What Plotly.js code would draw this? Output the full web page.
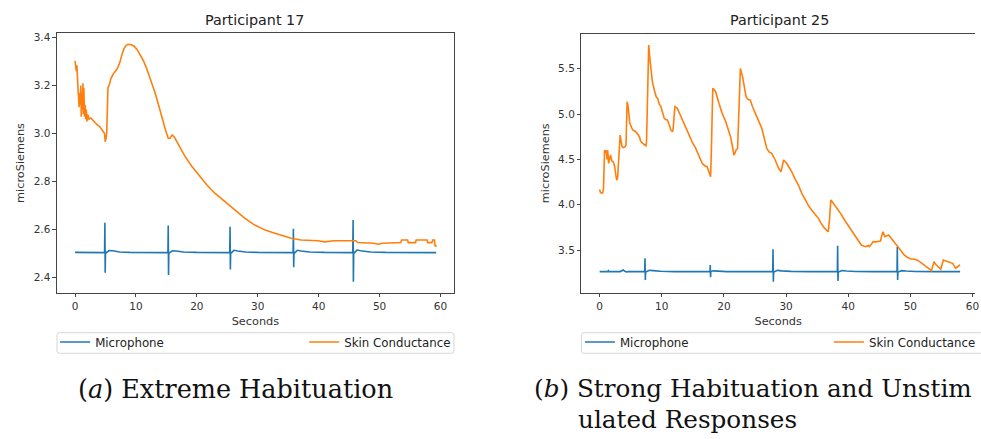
<!DOCTYPE html>
<html><head><meta charset="utf-8">
<script src="https://cdn.plot.ly/plotly-3.0.1.min.js"></script>
<style>html,body{margin:0;padding:0;background:#fff;} #chart{width:981px;height:439px;}</style>
</head><body><div id="chart"></div>
<script>
// ---------- data ----------
const seriesNames = ['Microphone', 'Skin Conductance'];
const panelTitles = ['Participant 17', 'Participant 25'];
const xAxisTitle = 'Seconds';
const yAxisTitle = 'microSiemens';
const captionA = '(<i>a</i>) Extreme Habituation';
const captionB1 = '(<i>b</i>) Strong Habituation and Unstim';
const captionB2 = 'ulated Responses';

// Participant 17 – microphone
const p17MicTime = [0, 2.0, 4.85, 4.9, 4.95, 5.0, 5.15, 5.6, 6.2, 7.3, 9.0, 11.0, 13.0, 15.25, 15.3, 15.35, 15.4, 15.55, 16.0, 16.6, 17.8, 20.0, 23.0, 25.4, 25.45, 25.5, 25.55, 25.7, 26.1, 26.7, 28.0, 30.0, 33.0, 35.8, 35.85, 35.9, 35.95, 36.1, 36.5, 37.1, 38.5, 41.0, 43.0, 45.6, 45.65, 45.7, 45.75, 45.9, 46.3, 46.9, 48.5, 51.0, 55.0, 59.3];
const p17Mic = [2.504, 2.503, 2.503, 2.628, 2.419, 2.506, 2.503, 2.512, 2.511, 2.506, 2.504, 2.504, 2.503, 2.503, 2.616, 2.410, 2.505, 2.503, 2.511, 2.510, 2.506, 2.504, 2.503, 2.503, 2.611, 2.433, 2.505, 2.503, 2.513, 2.510, 2.506, 2.504, 2.503, 2.503, 2.603, 2.442, 2.505, 2.503, 2.513, 2.510, 2.506, 2.504, 2.503, 2.503, 2.639, 2.382, 2.505, 2.503, 2.514, 2.511, 2.506, 2.504, 2.503, 2.503];

// Participant 17 – skin conductance
const p17ScTime = [0, 0.05, 0.12, 0.2, 0.3, 0.38, 0.5, 0.6, 0.68, 0.75, 0.85, 0.95, 1.02, 1.1, 1.2, 1.3, 1.36, 1.45, 1.55, 1.65, 1.75, 1.85, 1.95, 2.1, 2.3, 2.6, 2.9, 3.3, 3.7, 4.0, 4.3, 4.6, 4.85, 4.95, 5.05, 5.2, 5.3, 5.4, 5.7, 5.9, 6.3, 6.8, 7.1, 7.4, 7.7, 8.05, 8.4, 8.7, 9.2, 9.7, 10.2, 10.7, 11.2, 11.7, 12.2, 12.7, 13.2, 13.7, 14.3, 14.85, 15.3, 15.6, 15.94, 16.3, 16.8, 17.3, 18.1, 19.2, 20.3, 21.65, 23.0, 24.6, 26.3, 27.9, 29.5, 31.2, 32.8, 34.4, 35.5, 37.1, 39.9, 41.0, 41.8, 42.5, 46.1, 46.4, 49.0, 49.8, 50.5, 53.5, 53.6, 54.6, 54.7, 55.9, 56.0, 57.8, 57.9, 58.6, 58.7, 59.0, 59.1, 59.2, 59.3];
const p17Sc = [3.303, 3.28, 3.295, 3.26, 3.285, 3.21, 3.18, 3.14, 3.11, 3.17, 3.12, 3.20, 3.07, 3.17, 3.10, 3.21, 3.08, 3.19, 3.07, 3.12, 3.06, 3.10, 3.05, 3.08, 3.06, 3.065, 3.055, 3.045, 3.035, 3.03, 3.02, 3.008, 3.0, 2.966, 2.975, 3.0, 3.16, 3.19, 3.21, 3.23, 3.25, 3.265, 3.28, 3.30, 3.33, 3.355, 3.368, 3.372, 3.370, 3.364, 3.35, 3.33, 3.305, 3.275, 3.24, 3.203, 3.165, 3.12, 3.063, 3.015, 2.98, 2.98, 2.994, 2.985, 2.962, 2.938, 2.903, 2.862, 2.827, 2.785, 2.75, 2.716, 2.681, 2.646, 2.618, 2.597, 2.584, 2.570, 2.563, 2.556, 2.553, 2.548, 2.551, 2.553, 2.553, 2.545, 2.542, 2.538, 2.542, 2.545, 2.556, 2.556, 2.545, 2.545, 2.556, 2.556, 2.545, 2.545, 2.556, 2.556, 2.53, 2.535, 2.528];

// Participant 25 – microphone
const p25MicTime = [0, 1.3, 1.4, 1.5, 3.3, 3.6, 3.8, 4.0, 4.3, 4.6, 7.25, 7.3, 7.35, 7.4, 7.55, 8.0, 8.6, 9.8, 12.0, 15.0, 17.75, 17.8, 17.85, 17.9, 18.3, 19.0, 20.5, 24.0, 27.85, 27.9, 27.95, 28.0, 28.15, 28.6, 29.3, 30.8, 34.0, 35.5, 38.25, 38.3, 38.35, 38.4, 38.55, 39.0, 39.7, 41.2, 44.0, 47.85, 47.9, 47.95, 48.0, 48.15, 48.6, 49.3, 50.8, 54.0, 58.0];
const p25Mic = [3.261, 3.261, 3.272, 3.261, 3.262, 3.272, 3.28, 3.268, 3.258, 3.261, 3.261, 3.408, 3.169, 3.262, 3.26, 3.276, 3.272, 3.265, 3.262, 3.261, 3.261, 3.335, 3.199, 3.262, 3.270, 3.266, 3.262, 3.261, 3.261, 3.507, 3.151, 3.262, 3.26, 3.275, 3.270, 3.264, 3.261, 3.263, 3.261, 3.548, 3.158, 3.262, 3.26, 3.274, 3.269, 3.263, 3.261, 3.261, 3.537, 3.169, 3.262, 3.26, 3.272, 3.268, 3.263, 3.261, 3.261];

// Participant 25 – skin conductance
const p25ScTime = [0, 0.1, 0.3, 0.5, 0.62, 0.7, 0.8, 0.95, 1.07, 1.2, 1.3, 1.44, 1.6, 1.75, 1.9, 2.0, 2.2, 2.4, 2.6, 2.75, 2.9, 3.1, 3.3, 3.45, 3.6, 3.8, 4.1, 4.25, 4.42, 4.55, 4.7, 4.85, 5.1, 5.33, 5.7, 6.0, 6.4, 6.6, 6.93, 7.2, 7.46, 7.55, 7.9, 8.1, 8.26, 8.5, 8.8, 9.1, 9.33, 9.6, 9.86, 10.1, 10.4, 10.6, 10.9, 11.2, 11.46, 11.73, 11.85, 12.1, 12.5, 12.9, 13.3, 13.85, 14.4, 14.9, 15.46, 16.0, 16.5, 16.9, 17.3, 17.6, 17.86, 18.0, 18.2, 18.4, 18.66, 19.2, 19.7, 20.3, 20.7, 21.06, 21.35, 21.6, 21.8, 21.96, 22.2, 22.45, 22.65, 23.0, 23.3, 23.56, 23.9, 24.25, 24.6, 25.05, 25.6, 26.1, 26.5, 26.9, 27.3, 27.7, 28.25, 28.8, 29.2, 29.4, 29.6, 29.9, 30.1, 30.5, 30.9, 31.4, 31.98, 32.5, 33.05, 33.6, 34.1, 34.6, 35.2, 35.6, 36.0, 36.5, 36.8, 37.0, 37.2, 37.6, 38.0, 38.4, 38.9, 39.4, 40.0, 40.5, 40.9, 41.3, 41.7, 42.1, 42.5, 42.9, 43.2, 43.4, 43.7, 44.0, 44.4, 44.8, 45.2, 45.4, 45.6, 45.9, 46.2, 46.5, 46.8, 47.2, 47.6, 48.0, 48.5, 49.0, 49.5, 50.1, 50.6, 51.2, 51.7, 52.2, 52.6, 53.0, 53.4, 53.6, 53.8, 54.1, 54.4, 54.9, 55.1, 55.3, 55.6, 56.0, 56.4, 56.8, 57.1, 57.3, 57.5, 57.7, 58.0];
const p25Sc = [4.169, 4.14, 4.128, 4.13, 4.18, 4.40, 4.603, 4.57, 4.60, 4.50, 4.60, 4.456, 4.52, 4.548, 4.50, 4.48, 4.47, 4.43, 4.33, 4.27, 4.30, 4.55, 4.768, 4.70, 4.64, 4.63, 4.64, 4.66, 5.136, 5.10, 4.96, 4.90, 4.86, 4.824, 4.81, 4.79, 4.75, 4.70, 4.676, 4.66, 4.65, 4.70, 5.761, 5.60, 5.52, 5.35, 5.265, 5.19, 5.173, 5.11, 5.081, 5.02, 4.952, 4.94, 4.934, 4.88, 4.824, 4.805, 4.85, 5.081, 5.063, 5.00, 4.934, 4.85, 4.768, 4.69, 4.621, 4.54, 4.456, 4.43, 4.419, 4.36, 4.309, 4.65, 5.283, 5.27, 5.246, 5.118, 5.01, 4.915, 4.83, 4.75, 4.65, 4.548, 4.57, 4.603, 4.62, 5.20, 5.504, 5.412, 5.27, 5.191, 5.16, 5.154, 5.08, 5.007, 4.92, 4.842, 4.73, 4.621, 4.58, 4.566, 4.493, 4.401, 4.364, 4.42, 4.493, 4.47, 4.456, 4.41, 4.364, 4.29, 4.217, 4.13, 4.051, 3.99, 3.941, 3.90, 3.849, 3.80, 3.757, 3.72, 3.702, 3.85, 4.051, 4.015, 3.98, 3.941, 3.89, 3.831, 3.77, 3.72, 3.67, 3.629, 3.59, 3.555, 3.545, 3.537, 3.55, 3.537, 3.56, 3.592, 3.59, 3.592, 3.60, 3.66, 3.702, 3.647, 3.66, 3.665, 3.64, 3.610, 3.57, 3.537, 3.49, 3.445, 3.42, 3.40, 3.40, 3.385, 3.36, 3.335, 3.31, 3.287, 3.272, 3.32, 3.371, 3.34, 3.316, 3.287, 3.34, 3.390, 3.38, 3.371, 3.37, 3.353, 3.32, 3.298, 3.31, 3.324, 3.335];

// ---------- styling ----------
const W = 981, H = 439;
const px = v => v / W;
const py = v => 1 - v / H;
const BLUE = '#1f77b4', ORANGE = '#ff7f0e';
const SANS = 'DejaVu Sans';
const SERIF = 'DejaVu Serif';

const traces = [
  {x: p17MicTime, y: p17Mic, name: seriesNames[0], type: 'scatter', mode: 'lines', line: {color: BLUE, width: 1.6}, xaxis: 'x', yaxis: 'y', legend: 'legend', legendwidth: 204},
  {x: p17ScTime, y: p17Sc, name: seriesNames[1], type: 'scatter', mode: 'lines', line: {color: ORANGE, width: 1.6}, xaxis: 'x', yaxis: 'y', legend: 'legend'},
  {x: p25MicTime, y: p25Mic, name: seriesNames[0], type: 'scatter', mode: 'lines', line: {color: BLUE, width: 1.6}, xaxis: 'x2', yaxis: 'y2', legend: 'legend2', legendwidth: 204},
  {x: p25ScTime, y: p25Sc, name: seriesNames[1], type: 'scatter', mode: 'lines', line: {color: ORANGE, width: 1.6}, xaxis: 'x2', yaxis: 'y2', legend: 'legend2'}
];

const axisBase = {
  showgrid: false, zeroline: false, showline: true, linecolor: '#444', linewidth: 1,
  ticks: 'outside', ticklen: 3.5, tickwidth: 1, tickcolor: '#444',
  tickfont: {family: SANS, size: 10.5, color: '#333'}, fixedrange: true
};
const xTitle = {text: xAxisTitle, font: {family: SANS, size: 11.3, color: '#333'}, standoff: 6};
const yTitle = {text: yAxisTitle, font: {family: SANS, size: 11.3, color: '#333'}, standoff: 6};

const legendBase = {
  orientation: 'h', xanchor: 'left', yanchor: 'top',
  bgcolor: 'rgba(0,0,0,0)', borderwidth: 0,
  font: {family: SANS, size: 11.8, color: '#222'}, itemwidth: 30
};

// legend frames (matplotlib-style rounded boxes)
function roundBox(x0, y0, x1, y1, r) {
  return {type: 'path', xref: 'paper', yref: 'paper', layer: 'above',
    path: `M${px(x0 + r)},${py(y0)} L${px(x1 - r)},${py(y0)} Q${px(x1)},${py(y0)} ${px(x1)},${py(y0 + r)} ` +
          `L${px(x1)},${py(y1 - r)} Q${px(x1)},${py(y1)} ${px(x1 - r)},${py(y1)} L${px(x0 + r)},${py(y1)} ` +
          `Q${px(x0)},${py(y1)} ${px(x0)},${py(y1 - r)} L${px(x0)},${py(y0 + r)} Q${px(x0)},${py(y0)} ${px(x0 + r)},${py(y0)} Z`,
    line: {color: '#d6d6d6', width: 1}, fillcolor: 'rgba(255,255,255,0.8)'};
}

const layout = {
  width: W, height: H,
  margin: {l: 0, r: 0, t: 0, b: 0, pad: 0},
  paper_bgcolor: '#fff', plot_bgcolor: '#fff',
  showlegend: true,
  xaxis: Object.assign({}, axisBase, {domain: [px(57.3), px(456.7)], anchor: 'y', range: [-2.97, 62.2], tick0: 0, dtick: 10, mirror: true, title: xTitle}),
  yaxis: Object.assign({}, axisBase, {domain: [py(292.7), py(33.3)], anchor: 'x', range: [2.336, 3.418], tick0: 0, dtick: 0.2, tickformat: '.1f', mirror: true, title: yTitle}),
  xaxis2: Object.assign({}, axisBase, {domain: [px(585), 1], anchor: 'y2', range: [-2.93, 60.40], tick0: 0, dtick: 10, mirror: true, ticklabeloverflow: 'allow', title: xTitle}),
  yaxis2: Object.assign({}, axisBase, {domain: [py(292.7), py(33.7)], anchor: 'x2', range: [3.029, 5.886], tick0: 0, dtick: 0.5, tickformat: '.1f', mirror: false, title: yTitle}),
  legend: Object.assign({}, legendBase, {x: px(55.5), y: py(327.5)}),
  legend2: Object.assign({}, legendBase, {x: px(583.5), y: py(327.5)}),
  shapes: [roundBox(57.3, 332.7, 456.7, 353.3, 2.5), roundBox(585, 332.7, 995, 353.3, 2.5)],
  annotations: [
    {text: panelTitles[0], xref: 'paper', yref: 'paper', x: px(256.5), y: py(20), xanchor: 'center', yanchor: 'middle', showarrow: false, font: {family: SANS, size: 14.3, color: '#222'}},
    {text: panelTitles[1], xref: 'paper', yref: 'paper', x: px(784.5), y: py(20), xanchor: 'center', yanchor: 'middle', showarrow: false, font: {family: SANS, size: 14.3, color: '#222'}},
    {text: captionA, xref: 'paper', yref: 'paper', x: px(76), y: py(389), xanchor: 'left', yanchor: 'middle', showarrow: false, font: {family: SERIF, size: 25.5, color: '#111'}},
    {text: captionB1, xref: 'paper', yref: 'paper', x: px(535), y: py(388), xanchor: 'left', yanchor: 'middle', showarrow: false, font: {family: SERIF, size: 24.7, color: '#111'}},
    {text: captionB2, xref: 'paper', yref: 'paper', x: px(580), y: py(419.5), xanchor: 'left', yanchor: 'middle', showarrow: false, font: {family: SERIF, size: 24.7, color: '#111'}}
  ]
};

Plotly.newPlot('chart', traces, layout, {displayModeBar: false, staticPlot: true});
</script></body></html>
